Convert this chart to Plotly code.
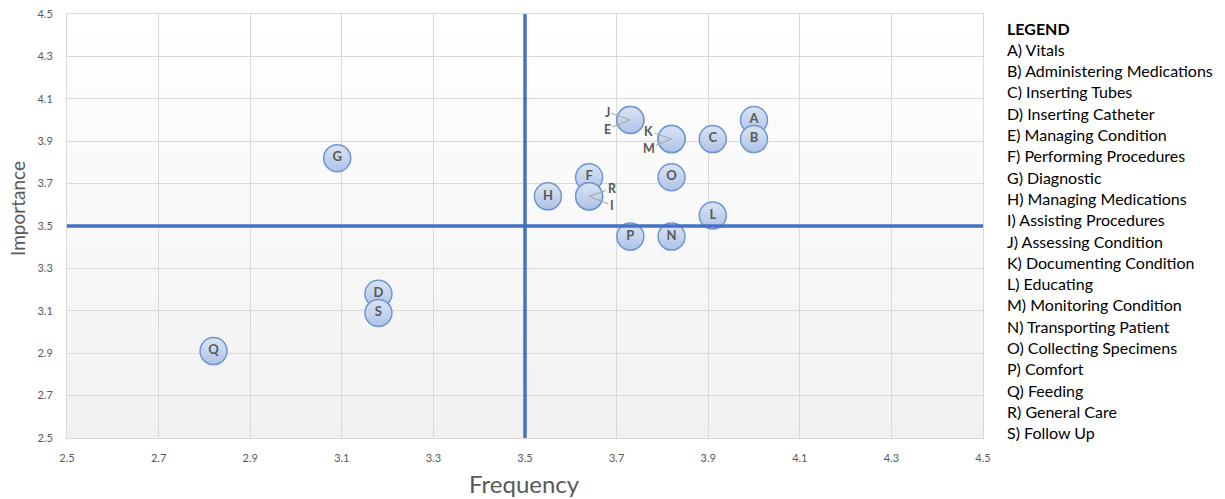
import plotly.graph_objects as go

# Activity codes, names and survey scores
codes = ["A", "B", "C", "D", "E", "F", "G", "H", "I", "J",
         "K", "L", "M", "N", "O", "P", "Q", "R", "S"]
names = ["Vitals", "Administering Medications", "Inserting Tubes",
         "Inserting Catheter", "Managing Condition", "Performing Procedures",
         "Diagnostic", "Managing Medications", "Assisting Procedures",
         "Assessing Condition", "Documenting Condition", "Educating",
         "Monitoring Condition", "Transporting Patient", "Collecting Specimens",
         "Comfort", "Feeding", "General Care", "Follow Up"]
frequency = [4.00, 4.00, 3.91, 3.18, 3.73, 3.64, 3.09, 3.55, 3.64, 3.73,
             3.82, 3.91, 3.82, 3.82, 3.82, 3.73, 2.82, 3.64, 3.18]
importance = [4.00, 3.91, 3.91, 3.18, 4.00, 3.73, 3.82, 3.64, 3.64, 4.00,
              3.91, 3.55, 3.91, 3.45, 3.73, 3.45, 2.91, 3.64, 3.09]

# Quadrant dividers
freq_split = 3.5
imp_split = 3.5

# Codes whose bubbles coincide get leader-line labels instead of inner text:
# (upper label, lower label, side)
shared = [("J", "E", -1), ("K", "M", -1), ("R", "I", 1)]

axis_grey = "#595959"
grid_grey = "#d9d9d9"
blue = "#4472c4"

# Plot-area geometry in pixels
W, H = 1225, 499
ml, mr, mt, mb = 67, 242, 14, 61
pw, ph = W - ml - mr, H - mt - mb


def px_to_paper(px, py):
    return (px - ml) / pw, (H - mb - py) / ph


idx = {c: i for i, c in enumerate(codes)}
labelled_outside = {c for pair in shared for c in pair[:2]}

fig = go.Figure()

# Gradient plot background drawn as thin horizontal bands
n_bands = 60
for k in range(n_bands):
    t = k / (n_bands - 1)
    g = round(255 - t * 14)
    fig.add_shape(type="rect", xref="x domain", yref="y domain",
                  x0=0, x1=1, y0=1 - (k + 1) / n_bands, y1=1 - k / n_bands,
                  fillcolor=f"rgb({g},{g},{g})", line=dict(width=0),
                  layer="below")

bubble_text = ["" if c in labelled_outside else f"<b>{c}</b>" for c in codes]
fig.add_trace(go.Scatter(
    x=frequency, y=importance, mode="markers+text",
    text=bubble_text, textposition="middle center",
    textfont=dict(family="Lato", size=13, color=axis_grey),
    marker=dict(size=27, color="#dbe4f4",
                gradient=dict(type="vertical", color="#aec3e8"),
                line=dict(color="#6f95d3", width=1.5)),
    hoverinfo="skip", showlegend=False, cliponaxis=False,
))

# Quadrant lines
fig.add_shape(type="line", x0=freq_split, x1=freq_split, y0=2.5, y1=4.5,
              xref="x", yref="y", line=dict(color=blue, width=3.5), layer="above")
fig.add_shape(type="line", x0=2.5, x1=4.5, y0=imp_split, y1=imp_split,
              xref="x", yref="y", line=dict(color=blue, width=3.5), layer="above")

# Leader-line labels for coinciding bubbles
for upper, lower, side in shared:
    for code, ay in ((upper, -8), (lower, 9)):
        i = idx[code]
        fig.add_annotation(
            x=frequency[i], y=importance[i], xref="x", yref="y",
            text=f"<b>{code}</b>", showarrow=True, arrowhead=0,
            arrowwidth=1, arrowcolor="#a6a6a6", ax=23 * side, ay=ay,
            standoff=0, startstandoff=0,
            font=dict(family="Lato", size=12.5, color=axis_grey),
        )

# Axis titles
fx, fy = px_to_paper(524, 483)
fig.add_annotation(x=fx, y=fy, xref="paper", yref="paper",
                   xanchor="center", yanchor="middle", showarrow=False,
                   text="Frequency",
                   font=dict(family="Lato", size=24, color=axis_grey))
ix, iy = px_to_paper(17, 209)
fig.add_annotation(x=ix, y=iy, xref="paper", yref="paper",
                   xanchor="center", yanchor="middle", showarrow=False,
                   text="Importance", textangle=-90,
                   font=dict(family="Lato", size=19, color=axis_grey))

# Legend listing at the right
legend_lines = ["<b>LEGEND</b>"] + [f"{c}) {n}" for c, n in zip(codes, names)]
first_y, step = 28, 21.3
for j, line in enumerate(legend_lines):
    lx, ly = px_to_paper(1005, first_y + j * step)
    fig.add_annotation(
        x=lx, y=ly, xref="paper", yref="paper",
        xanchor="left", yanchor="middle",
        text=line, showarrow=False,
        font=dict(family="Lato", size=16, color="#000000"),
    )

axis_common = dict(
    range=[2.5, 4.5], tick0=2.5, dtick=0.2, tickformat=".1f",
    showgrid=True, gridcolor=grid_grey, gridwidth=1,
    showline=True, linecolor=grid_grey, linewidth=1, mirror=True,
    zeroline=False, ticks="", automargin=False,
    tickfont=dict(family="Lato", size=11, color=axis_grey),
)

fig.update_xaxes(**axis_common, ticklabelstandoff=10)
fig.update_yaxes(**axis_common, ticklabelstandoff=11)

fig.update_layout(
    width=W, height=H,
    margin=dict(l=ml, r=mr, t=mt, b=mb),
    paper_bgcolor="white", plot_bgcolor="white",
    showlegend=False,
)

fig.write_html("out.html")
